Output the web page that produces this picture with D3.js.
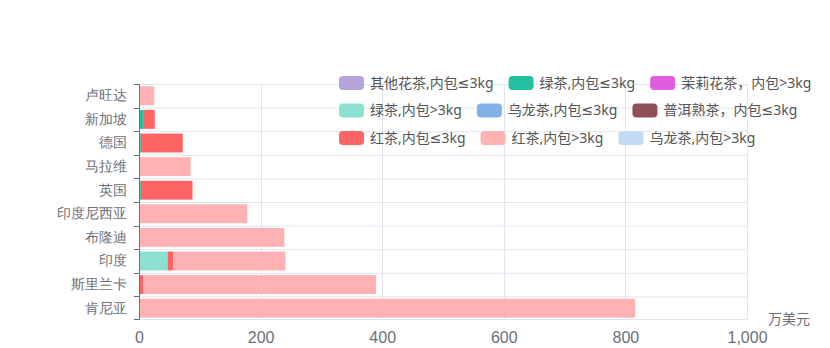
<!DOCTYPE html>
<html>
<head>
<meta charset="utf-8">
<script src="https://cdn.jsdelivr.net/npm/d3@7/dist/d3.min.js"></script>
<style>
  html, body { margin: 0; padding: 0; background: #fff; }
  svg { display: block; font-family: "Noto Sans CJK SC", "Noto Sans", sans-serif; }
  .legend text { font-family: "Noto Sans", "DejaVu Sans", "Noto Sans CJK SC", sans-serif; }
</style>
</head>
<body>
<svg id="chart" width="830" height="348"></svg>
<script>
// Countries, top to bottom
const countries = ["卢旺达", "新加坡", "德国", "马拉维", "英国", "印度尼西亚", "布隆迪", "印度", "斯里兰卡", "肯尼亚"];

// Series names (legend order = stacking order)
const seriesNames = [
  "其他花茶,内包≤3kg", "绿茶,内包≤3kg", "茉莉花茶，内包>3kg",
  "绿茶,内包>3kg", "乌龙茶,内包≤3kg", "普洱熟茶，内包≤3kg",
  "红茶,内包≤3kg", "红茶,内包>3kg", "乌龙茶,内包>3kg"
];
const seriesColors = ["#b4a3dd", "#22bfa0", "#e05de0", "#8ddfd0", "#80b2e8", "#8f4f57", "#ff6464", "#ffb1b3", "#c2daf3"];

// Values in 万美元, one per country (same order as countries)
const otherFlowerSmall  = [0, 0, 0, 0, 0, 0, 0, 0, 0, 0];
const greenSmall        = [0, 8, 3, 0, 3, 0, 0, 0, 0, 0];
const jasmineLarge      = [0, 0, 0, 0, 0, 0, 0, 0, 0, 0];
const greenLarge        = [0, 0, 0, 0, 0, 0, 0, 47, 0, 0];
const oolongSmall       = [0, 0, 0, 0, 0, 0, 0, 0, 0, 0];
const puerSmall         = [0, 0, 0, 0, 0, 0, 0, 0, 0, 0];
const blackSmall        = [0, 18, 69, 0, 85, 0, 0, 9, 7, 0];
const blackLarge        = [25, 0, 0, 85, 0, 178, 239, 185, 383, 816];
const oolongLarge       = [0, 0, 0, 0, 0, 0, 0, 0, 0, 0];

const seriesValues = [otherFlowerSmall, greenSmall, jasmineLarge, greenLarge, oolongSmall, puerSmall, blackSmall, blackLarge, oolongLarge];

const xTicks = [0, 200, 400, 600, 800, 1000];
const unitLabel = "万美元";

const svg = d3.select("#chart");
const margin = { left: 139, right: 83, top: 84, bottom: 28 };
const W = 830, H = 348;
const plotW = W - margin.left - margin.right;
const plotH = H - margin.top - margin.bottom;

const x = d3.scaleLinear().domain([0, 1000]).range([margin.left, margin.left + plotW]);
const y = d3.scaleBand().domain(countries).range([margin.top, margin.top + plotH])
  .paddingInner(0.2).paddingOuter(0.1);
const step = y.step();
const gridColor = "#e0e6f1";
const axisColor = "#6e7079";

// Horizontal split lines at category boundaries
const bounds = d3.range(countries.length + 1).map(i => margin.top + i * step);
svg.append("g").selectAll("line").data(bounds.slice(0, -1)).join("line")
  .attr("x1", margin.left).attr("x2", margin.left + plotW)
  .attr("y1", d => d + 0.5).attr("y2", d => d + 0.5)
  .attr("stroke", gridColor).attr("stroke-width", 1);
svg.append("line")
  .attr("x1", margin.left).attr("x2", margin.left + plotW)
  .attr("y1", margin.top + plotH - 0.5).attr("y2", margin.top + plotH - 0.5)
  .attr("stroke", gridColor);

// Vertical split lines
svg.append("g").selectAll("line").data(xTicks.slice(1)).join("line")
  .attr("x1", d => Math.round(x(d)) + 0.5).attr("x2", d => Math.round(x(d)) + 0.5)
  .attr("y1", margin.top).attr("y2", margin.top + plotH)
  .attr("stroke", gridColor);

// Stacked bars
const rows = countries.map((c, i) => {
  const r = { country: c };
  seriesNames.forEach((s, j) => { r[s] = seriesValues[j][i]; });
  return r;
});
const stacked = d3.stack().keys(seriesNames)(rows);
svg.append("g").selectAll("g").data(stacked).join("g")
  .attr("fill", (d, i) => seriesColors[i])
  .selectAll("rect").data(d => d.filter(p => p[1] - p[0] > 0)).join("rect")
  .attr("x", d => x(d[0]))
  .attr("width", d => x(d[1]) - x(d[0]))
  .attr("y", d => y(d.data.country))
  .attr("height", y.bandwidth());

// Y axis: line, boundary ticks, labels
const yAxis = svg.append("g").attr("transform", `translate(${margin.left},0)`)
  .call(d3.axisLeft(y).tickSize(0).tickPadding(12));
yAxis.select(".domain").remove();
yAxis.selectAll("text").attr("fill", axisColor).style("font-size", "14px");
svg.append("line")
  .attr("x1", margin.left + 0.5).attr("x2", margin.left + 0.5)
  .attr("y1", margin.top).attr("y2", margin.top + plotH)
  .attr("stroke", axisColor);
svg.append("g").selectAll("line").data(bounds).join("line")
  .attr("x1", margin.left - 5).attr("x2", margin.left + 0.5)
  .attr("y1", d => Math.min(Math.round(d), margin.top + plotH - 1) + 0.5)
  .attr("y2", d => Math.min(Math.round(d), margin.top + plotH - 1) + 0.5)
  .attr("stroke", axisColor);

// X axis labels
const xAxis = svg.append("g").attr("transform", `translate(0,${margin.top + plotH})`)
  .call(d3.axisBottom(x).tickValues(xTicks).tickFormat(d3.format(",")).tickSize(0).tickPadding(12));
xAxis.select(".domain").remove();
xAxis.selectAll("text").attr("fill", axisColor).style("font-size", "16px");

svg.append("text")
  .attr("x", x(1000) + 21).attr("y", margin.top + plotH + 4)
  .attr("fill", axisColor).style("font-size", "14px")
  .text(unitLabel);

// Legend, three items per row
const legend = svg.append("g").attr("class", "legend");
const legendX0 = 339, legendY0 = 83, rowGap = 27.5, itemGap = 15;
let cx = legendX0;
seriesNames.forEach((name, i) => {
  const row = Math.floor(i / 3);
  if (i % 3 === 0) cx = legendX0;
  const cy = legendY0 + row * rowGap;
  const g = legend.append("g");
  g.append("rect").attr("x", cx).attr("y", cy - 7).attr("width", 25).attr("height", 14)
    .attr("rx", 4).attr("fill", seriesColors[i]);
  const t = g.append("text").attr("x", cx + 31).attr("y", cy).attr("dy", "0.35em")
    .attr("fill", "#555").style("font-size", "14px").text(name);
  cx += 31 + t.node().getComputedTextLength() + itemGap;
});
</script>
</body>
</html>
